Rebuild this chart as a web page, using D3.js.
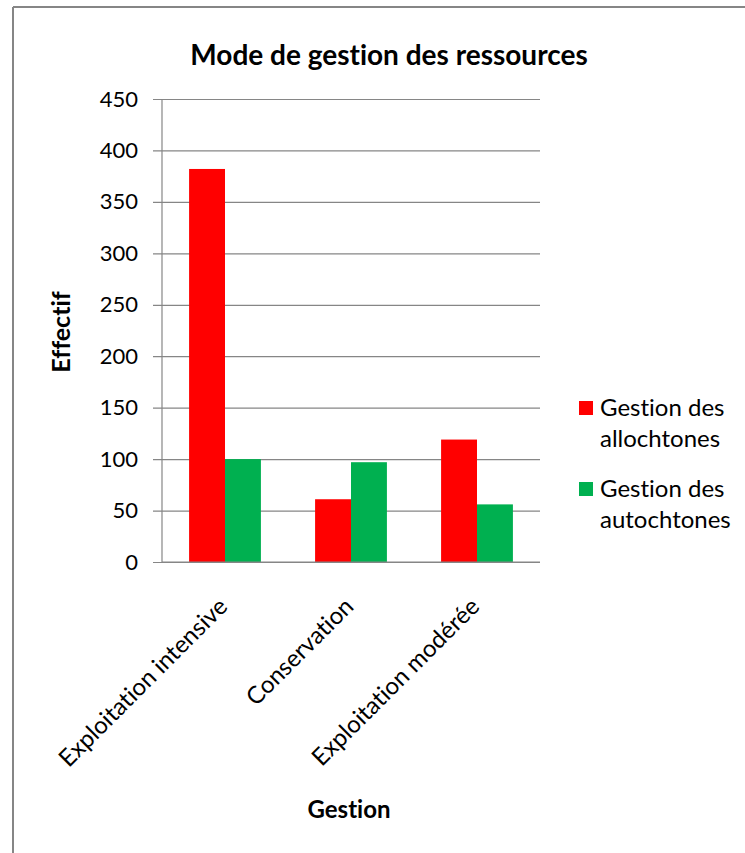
<!DOCTYPE html>
<html>
<head>
<meta charset="utf-8">
<script src="https://cdn.jsdelivr.net/npm/d3@7"></script>
<style>
  html, body { margin: 0; padding: 0; background: #fff; }
  svg { display: block; }
  text { font-family: Lato, "Open Sans", sans-serif; fill: #000; font-variant-ligatures: none; font-feature-settings: "liga" 0, "clig" 0; }
</style>
</head>
<body>
<svg id="chart" width="745" height="853"></svg>
<script>
const categories = ["Exploitation intensive", "Conservation", "Exploitation modérée"];
const seriesNames = ["Gestion des allochtones", "Gestion des autochtones"];
const allochtones = [382, 61, 119];
const autochtones = [100, 97, 56];
const yTicks = [0, 50, 100, 150, 200, 250, 300, 350, 400, 450];
const colors = ["#ff0000", "#00b050"];
const legendLines = [["Gestion des", "allochtones"], ["Gestion des", "autochtones"]];

const svg = d3.select("#chart");
const W = 745, H = 853;
const plot = { left: 162, right: 540, top: 99, bottom: 562 };

// frame
svg.append("line").attr("x1", 13).attr("x2", W).attr("y1", 7).attr("y2", 7)
  .attr("stroke", "#868686").attr("stroke-width", 2);
svg.append("line").attr("x1", 13).attr("x2", 13).attr("y1", 7).attr("y2", H)
  .attr("stroke", "#868686").attr("stroke-width", 2);

const x0 = d3.scaleBand().domain(categories).range([plot.left, plot.right]).paddingInner(0.43).paddingOuter(0.215);
const x1 = d3.scaleBand().domain(seriesNames).range([0, x0.bandwidth()]);
const y = d3.scaleLinear().domain([0, 450]).range([plot.bottom, plot.top]);

// gridlines + y axis
const yAxis = d3.axisLeft(y).tickValues(yTicks).tickSize(plot.right - plot.left + 9).tickPadding(15);
const gy = svg.append("g").attr("transform", `translate(${plot.right},0)`).call(yAxis);
gy.select(".domain").remove();
gy.selectAll(".tick line").attr("stroke", "#868686").attr("stroke-width", 1.2);
gy.selectAll(".tick text").attr("font-size", 22).attr("fill", "#000")
  .style("font-family", "Lato, sans-serif");

// vertical axis line
svg.append("line").attr("x1", plot.left).attr("x2", plot.left).attr("y1", plot.top).attr("y2", plot.bottom)
  .attr("stroke", "#868686").attr("stroke-width", 1.2);

// bars
const data = categories.map((c, i) => ({ cat: c, vals: [allochtones[i], autochtones[i]] }));
const groups = svg.append("g").selectAll("g").data(data).join("g")
  .attr("transform", d => `translate(${x0(d.cat)},0)`);
groups.selectAll("rect").data(d => d.vals.map((v, j) => ({ v, s: seriesNames[j], j })))
  .join("rect")
  .attr("x", d => x1(d.s))
  .attr("width", x1.bandwidth())
  .attr("y", d => y(d.v))
  .attr("height", d => y(0) - y(d.v))
  .attr("fill", d => colors[d.j]);

// x axis baseline
svg.append("line").attr("x1", plot.left).attr("x2", plot.right).attr("y1", plot.bottom).attr("y2", plot.bottom)
  .attr("stroke", "#868686").attr("stroke-width", 1.2);

// x labels
const xAxis = d3.axisBottom(x0).tickSize(0).tickPadding(0);
const gx = svg.append("g").attr("transform", `translate(0,${plot.bottom})`).call(xAxis);
gx.select(".domain").remove();
gx.selectAll(".tick text")
  .attr("font-size", 24).attr("fill", "#000")
  .style("font-family", "Lato, sans-serif")
  .attr("text-anchor", "end")
  .attr("dy", null).attr("y", null)
  .attr("transform", "translate(4,46) rotate(-45)");

// title
svg.append("text").attr("x", 389).attr("y", 65).attr("text-anchor", "middle")
  .attr("font-size", 28).attr("font-weight", "bold").text("Mode de gestion des ressources");

// axis titles
svg.append("text").attr("x", 349).attr("y", 818).attr("text-anchor", "middle")
  .attr("font-size", 24).attr("font-weight", "bold").text("Gestion");
svg.append("text").attr("transform", "translate(70,332) rotate(-90)").attr("text-anchor", "middle")
  .attr("font-size", 25).attr("font-weight", "bold").text("Effectif");

// legend
const lg = svg.append("g").selectAll("g").data(seriesNames).join("g")
  .attr("transform", (d, i) => `translate(579,${401 + i * 81})`);
lg.append("rect").attr("width", 14).attr("height", 14).attr("fill", (d, i) => colors[i]);
lg.each(function(d, i) {
  const t = d3.select(this).append("text").attr("x", 21).attr("y", 15).attr("font-size", 24);
  legendLines[i].forEach((ln, k) => {
    t.append("tspan").attr("x", 21).attr("dy", k === 0 ? 0 : 31).text(ln);
  });
});
</script>
</body>
</html>
